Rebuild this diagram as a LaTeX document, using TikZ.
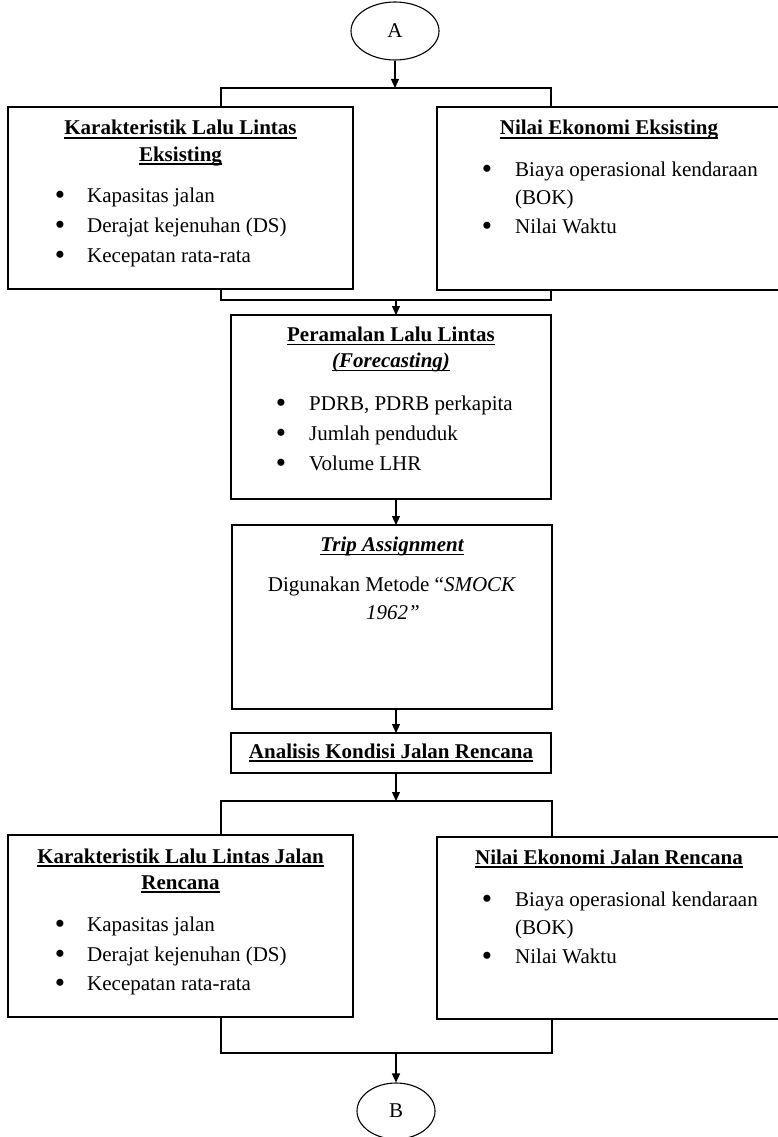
\documentclass[tikz,border=0pt]{standalone}
\usepackage{fontspec}
\setmainfont{Liberation Serif}
\usetikzlibrary{shapes.geometric,arrows.meta}
\newcommand\fsz{\fontsize{21}{26}\selectfont}
\newcommand\ulx[1]{\setbox0=\hbox{#1}\leavevmode\rlap{\rule[-3.6pt]{\wd0}{1.6pt}}\box0}
\newcommand\bigbul{\raisebox{-2.2pt}{\scalebox{1.4}{•}}}
\tikzset{
  box/.style={draw, line width=1.1pt, inner sep=0pt, outer sep=0pt},
  ttl/.style={anchor=base, inner sep=0pt, font=\fsz\bfseries},
  txt/.style={anchor=base, inner sep=0pt, font=\fsz},
  itm/.style={anchor=base west, inner sep=0pt, font=\fsz},
  bul/.style={anchor=base, inner sep=0pt, font=\fsz},
  ln/.style={line width=1.1pt},
  arr/.style={line width=1.1pt, -{Triangle[length=9pt,width=8pt]}},
  conn/.style={draw, line width=1.1pt, ellipse, inner sep=0pt, font=\fsz},
}
\begin{document}
\begin{tikzpicture}[x=1pt,y=-1pt]
\useasboundingbox (0,0) rectangle (777,1137);
% connectors A and B
\node[conn, minimum width=88pt, minimum height=58pt] (A) at (395,31) {A};
\node[conn, minimum width=78pt, minimum height=56pt] (B) at (396,1111) {B};
% boxes
\node[box, minimum width=345pt, minimum height=182pt] (k1) at (180.5,198) {};
\node[box, minimum width=343pt, minimum height=183pt] (n1) at (608.5,198.5) {};
\node[box, minimum width=320pt, minimum height=184pt] (p) at (391,407) {};
\node[box, minimum width=320pt, minimum height=184pt] (t) at (392,617) {};
\node[box, minimum width=320pt, minimum height=40pt] (an) at (391,753) {};
\node[box, minimum width=345pt, minimum height=182pt] (k2) at (180.5,926) {};
\node[box, minimum width=343pt, minimum height=182pt] (n2) at (608.5,928) {};
% texts top left
\node[ttl] (k1t1) at (180.5,135) {\ulx{Karakteristik Lalu Lintas}};
\node[ttl] (k1t2) at (180.5,161) {\ulx{Eksisting}};
\node[bul] (k1b1) at (60,202.5) {\bigbul};
\node[itm] (k1i1) at (87,202.5) {Kapasitas jalan};
\node[bul] (k1b2) at (60,232.5) {\bigbul};
\node[itm] (k1i2) at (87,232.5) {Derajat kejenuhan (DS)};
\node[bul] (k1b3) at (60,262.5) {\bigbul};
\node[itm] (k1i3) at (87,262.5) {Kecepatan rata-rata};
% texts top right
\node[ttl] (n1t1) at (609,135) {\ulx{Nilai Ekonomi Eksisting}};
\node[bul] (n1b1) at (487,176) {\bigbul};
\node[itm] (n1i1) at (515,176) {Biaya operasional kendaraan};
\node[itm] (n1i2) at (515,204) {(BOK)};
\node[bul] (n1b2) at (487,233) {\bigbul};
\node[itm] (n1i3) at (515,233) {Nilai Waktu};
% peramalan
\node[ttl] (pt1) at (391,341.5) {\ulx{Peramalan Lalu Lintas}};
\node[ttl] (pt2) at (391,367.5) {\ulx{\itshape(Forecasting)}};
\node[bul] (pb1) at (281,410.5) {\bigbul};
\node[itm] (pi1) at (309,410.5) {PDRB, PDRB perkapita};
\node[bul] (pb2) at (281,440.5) {\bigbul};
\node[itm] (pi2) at (309,440.5) {Jumlah penduduk};
\node[bul] (pb3) at (281,470.5) {\bigbul};
\node[itm] (pi3) at (309,470.5) {Volume LHR};
% trip assignment
\node[ttl] (tt1) at (392,551.5) {\ulx{\itshape Trip Assignment}};
\node[txt] (tx1) at (392,591.5) {Digunakan Metode “\textit{SMOCK}};
\node[txt] (tx2) at (393,619) {\textit{1962”}};
% analisis
\node[ttl] (at1) at (391,758) {\ulx{Analisis Kondisi Jalan Rencana}};
% bottom left
\node[ttl] (k2t1) at (180.5,863) {\ulx{Karakteristik Lalu Lintas Jalan}};
\node[ttl] (k2t2) at (180.5,889) {\ulx{Rencana}};
\node[bul] (k2b1) at (60,931.5) {\bigbul};
\node[itm] (k2i1) at (87,931.5) {Kapasitas jalan};
\node[bul] (k2b2) at (60,961) {\bigbul};
\node[itm] (k2i2) at (87,961) {Derajat kejenuhan (DS)};
\node[bul] (k2b3) at (60,990.5) {\bigbul};
\node[itm] (k2i3) at (87,990.5) {Kecepatan rata-rata};
% bottom right
\node[ttl] (n2t1) at (609,864) {\ulx{Nilai Ekonomi Jalan Rencana}};
\node[bul] (n2b1) at (487,906.5) {\bigbul};
\node[itm] (n2i1) at (515,906.5) {Biaya operasional kendaraan};
\node[itm] (n2i2) at (515,934) {(BOK)};
\node[bul] (n2b2) at (487,963) {\bigbul};
\node[itm] (n2i3) at (515,963) {Nilai Waktu};
% junction coordinates
\coordinate (j1) at (395,88);
\coordinate (j1L) at (221,88);
\coordinate (j1R) at (551,88);
\coordinate (j2) at (396,300);
\coordinate (j2L) at (221,300);
\coordinate (j2R) at (551,300);
\coordinate (j3) at (396,801);
\coordinate (j3L) at (221,801);
\coordinate (j3R) at (552,801);
\coordinate (j4) at (396,1053);
\coordinate (j4L) at (221,1053);
\coordinate (j4R) at (552,1053);
% connectors
\draw[arr] (A) -- (j1);
\draw[ln] (j1L |- k1.north) -- (j1L) -- (j1R) -- (j1R |- n1.north);
\draw[ln] (j2L |- k1.south) -- (j2L) -- (j2R) -- (j2R |- n1.south);
\draw[arr] (j2) -- (j2 |- p.north);
\draw[arr] (p.south -| j2) -- (t.north -| j2);
\draw[arr] (t.south -| j2) -- (an.north -| j2);
\draw[arr] (an.south -| j3) -- (j3);
\draw[ln] (j3L |- k2.north) -- (j3L) -- (j3R) -- (j3R |- n2.north);
\draw[ln] (j4L |- k2.south) -- (j4L) -- (j4R) -- (j4R |- n2.south);
\draw[arr] (j4) -- (B);
\end{tikzpicture}
\end{document}
